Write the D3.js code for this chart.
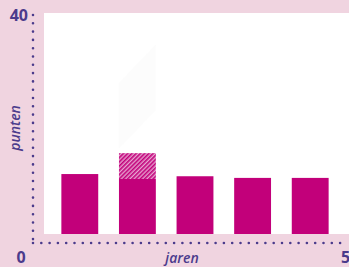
<!DOCTYPE html>
<html>
<head>
<script src="https://d3js.org/d3.v7.min.js"></script>
<style>
  body { margin: 0; background: #f0d4e0; }
  text { font-family: "Open Sans", sans-serif; fill: #4b3b8c; }
</style>
</head>
<body>
<svg width="349" height="267"></svg>
<script>
// data
var years = [1, 2, 3, 4, 5];
var base = [10.9, 10.0, 10.5, 10.2, 10.2];
var extra = [0, 4.7, 0, 0, 0];
var yTicks = [0, 40];

var svg = d3.select("svg");
var W = 349, H = 267;

var x = d3.scaleBand().domain(years).range([51, 339]).paddingInner(0.36).paddingOuter(0.18);
var y = d3.scaleLinear().domain([0, 40]).range([234, 14]);

// hatch pattern
var defs = svg.append("defs");
var pat = defs.append("pattern")
  .attr("id", "hatch")
  .attr("patternUnits", "userSpaceOnUse")
  .attr("width", 3).attr("height", 3)
  .attr("patternTransform", "rotate(45)");
pat.append("rect").attr("width", 3).attr("height", 3).attr("fill", "#e6a3cf");
pat.append("rect").attr("width", 1.6).attr("height", 3).attr("fill", "#c2007a");

// white plot area
svg.append("rect")
  .attr("x", 44).attr("y", 13)
  .attr("width", W - 44).attr("height", y(0) - 13)
  .attr("fill", "#fff");

// faint ghost shape above bar 2
var gx0 = x(2), gx1 = x(2) + x.bandwidth();
svg.append("path")
  .attr("d", "M" + gx0 + "," + y(15.5) + "L" + gx0 + "," + y(27.5) + "L" + gx1 + "," + y(34.5) + "L" + gx1 + "," + y(22.5) + "Z")
  .attr("fill", "#f4f4f4").attr("opacity", 0.3);

// bars
svg.selectAll(".bar")
  .data(years)
  .enter().append("rect")
  .attr("class", "bar")
  .attr("x", function(d) { return x(d); })
  .attr("width", x.bandwidth())
  .attr("y", function(d, i) { return y(base[i]); })
  .attr("height", function(d, i) { return y(0) - y(base[i]); })
  .attr("fill", "#c2007a");

svg.selectAll(".extra")
  .data(years.filter(function(d, i) { return extra[i] > 0; }))
  .enter().append("rect")
  .attr("class", "extra")
  .attr("x", function(d) { return x(d); })
  .attr("width", x.bandwidth())
  .attr("y", function(d) { var i = years.indexOf(d); return y(base[i] + extra[i]); })
  .attr("height", function(d) { var i = years.indexOf(d); return y(base[i]) - y(base[i] + extra[i]); })
  .attr("fill", "url(#hatch)");

// dotted axes
svg.append("line")
  .attr("x1", 33).attr("x2", 33).attr("y1", 15).attr("y2", 243)
  .attr("stroke", "#4b3b8c").attr("stroke-width", 2.6)
  .attr("stroke-linecap", "round").attr("stroke-dasharray", "0 8.3");
svg.append("line")
  .attr("x1", 33).attr("x2", 342).attr("y1", 243).attr("y2", 243)
  .attr("stroke", "#4b3b8c").attr("stroke-width", 2.6)
  .attr("stroke-linecap", "round").attr("stroke-dasharray", "0 8.3");

// tick labels
svg.append("text").attr("x", 28).attr("y", 21).attr("text-anchor", "end")
  .style("font-size", "16px").style("font-weight", 700).text(yTicks[1]);
svg.append("text").attr("x", 21).attr("y", 263).attr("text-anchor", "middle")
  .style("font-size", "16px").style("font-weight", 700).text(yTicks[0]);
svg.append("text").attr("x", 341).attr("y", 263).attr("text-anchor", "start")
  .style("font-size", "16px").style("font-weight", 700).text(years[years.length - 1]);

// axis titles
svg.append("text").attr("x", 182).attr("y", 263).attr("text-anchor", "middle")
  .style("font-size", "14px").style("font-weight", 600).style("font-style", "italic").text("jaren");
svg.append("text").attr("transform", "translate(20,128) rotate(-90)").attr("text-anchor", "middle")
  .style("font-size", "14px").style("font-weight", 600).style("font-style", "italic").text("punten");
</script>
</body>
</html>
